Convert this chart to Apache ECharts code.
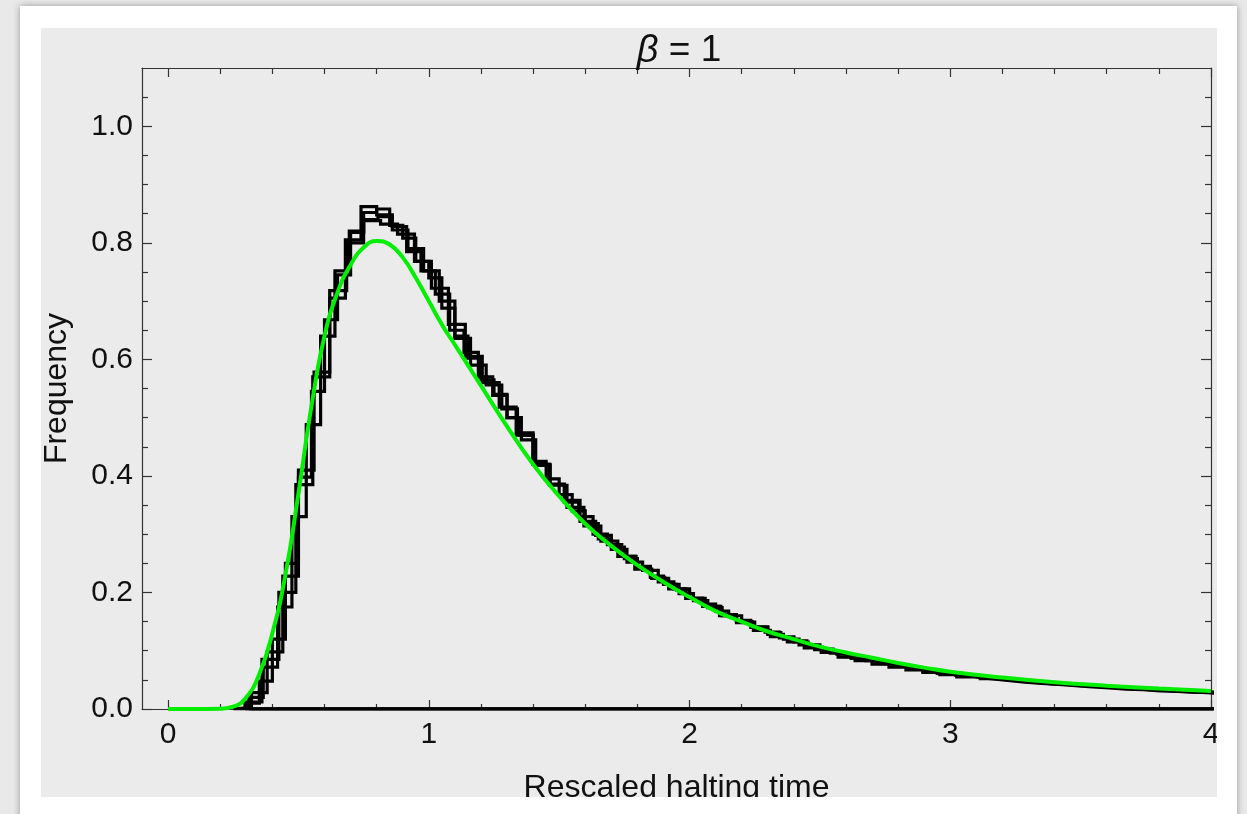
<!DOCTYPE html>
<html><head><meta charset="utf-8">
<script src="https://cdn.jsdelivr.net/npm/echarts@6/dist/echarts.min.js"></script>
<style>
html,body{margin:0;padding:0;width:1247px;height:814px;overflow:hidden;background:#e9e9e9;}
#card{position:absolute;left:20px;top:6px;width:1217px;height:830px;background:#fff;box-shadow:0 0 7px rgba(0,0,0,0.35);}
#chart{position:absolute;left:41px;top:28px;width:1176px;height:769px;background:#ebebeb;}
</style></head>
<body><div id="card"></div><div id="chart"></div>
<script>
// ---- data ----
const xName = 'Rescaled halting time';
const yName = 'Frequency';
const xMajorTicks = [0, 1, 2, 3, 4];
const xMinorTicks = [0.2,0.4,0.6,0.8,1.2,1.4,1.6,1.8,2.2,2.4,2.6,2.8,3.2,3.4,3.6,3.8];
const yMajorTicks = [0, 0.2, 0.4, 0.6, 0.8, 1.0];
const yTickLabels = ['0.0','0.2','0.4','0.6','0.8','1.0'];
const yMinorTicks = [0.05,0.1,0.15,0.25,0.3,0.35,0.45,0.5,0.55,0.65,0.7,0.75,0.85,0.9,0.95,1.05];

// histogram 1: bins start at 0.25, width 0.05
const hist1Start = 0.25, hist1Width = 0.05;
const hist1Values = [0.002,0.010,0.048,0.120,0.250,0.398,0.545,0.668,0.745,0.818,0.852,0.858,0.830,0.808,0.768,0.740,0.688,0.640,0.602,0.565,0.540,0.500,0.470,0.425,0.395,0.368,0.340,0.318,0.292,0.278,0.258,0.244,0.228,0.214,0.204,0.190,0.180,0.168,0.160,0.149,0.141,0.131,0.124,0.117,0.110,0.103,0.097,0.091,0.087,0.082,0.078,0.073,0.070,0.066,0.063,0.060,0.058,0.055,0.052,0.050,0.048,0.046,0.045,0.043,0.041,0.040,0.038,0.037,0.035,0.034,0.033,0.032,0.031,0.030,0.029,0.028];
// histogram 2: bins start at 0.31, width 0.055
const hist2Start = 0.31, hist2Width = 0.055;
const hist2Values = [0.020,0.072,0.175,0.330,0.488,0.640,0.752,0.820,0.840,0.845,0.828,0.785,0.752,0.712,0.650,0.612,0.570,0.538,0.500,0.462,0.418,0.385,0.355,0.330,0.300,0.282,0.262,0.245,0.226,0.214,0.198,0.186,0.174,0.160,0.152,0.140,0.132,0.122,0.115,0.106,0.100,0.094,0.087,0.083,0.078,0.074,0.070,0.065,0.061,0.059,0.056,0.052,0.050,0.048,0.046,0.043,0.042,0.040,0.039,0.037,0.036,0.034,0.033,0.032,0.030,0.029,0.028,0.027];
// histogram 3: bins start at 0.32, width 0.06
const hist3Start = 0.32, hist3Width = 0.06;
const hist3Values = [0.028,0.098,0.228,0.410,0.578,0.705,0.805,0.862,0.848,0.822,0.790,0.752,0.700,0.636,0.590,0.556,0.515,0.474,0.420,0.386,0.358,0.322,0.298,0.274,0.252,0.238,0.218,0.206,0.190,0.176,0.162,0.150,0.140,0.128,0.120,0.110,0.102,0.096,0.090,0.084,0.079,0.074,0.069,0.066,0.062,0.058,0.055,0.052,0.050,0.047,0.045,0.043,0.041,0.039,0.037,0.036,0.034,0.033,0.031,0.030,0.029,0.028];
// histogram 4: bins start at 0.295, width 0.065
const hist4Start = 0.295, hist4Width = 0.065;
const hist4Values = [0.012,0.085,0.200,0.385,0.570,0.718,0.800,0.838,0.832,0.815,0.768,0.722,0.660,0.605,0.560,0.518,0.470,0.420,0.384,0.346,0.314,0.288,0.262,0.240,0.224,0.206,0.190,0.176,0.160,0.148,0.135,0.124,0.115,0.105,0.097,0.089,0.083,0.077,0.072,0.067,0.063,0.059,0.055,0.052,0.049,0.046,0.044,0.042,0.040,0.038,0.036,0.034,0.033,0.031,0.030,0.029,0.028,0.027];

// fitted density (green curve)
const curveX = [0,0.1,0.2,0.25,0.3,0.35,0.4,0.45,0.5,0.55,0.6,0.65,0.7,0.75,0.8,0.85,0.9,0.95,1.0,1.05,1.1,1.15,1.2,1.3,1.4,1.5,1.6,1.7,1.8,1.9,2.0,2.1,2.2,2.3,2.4,2.5,2.6,2.7,2.8,2.9,3.0,3.2,3.4,3.6,3.8,4.0];
const curveY = [0,0,0.0005,0.004,0.02,0.06,0.13,0.23,0.37,0.52,0.64,0.715,0.762,0.792,0.803,0.797,0.775,0.74,0.70,0.66,0.625,0.59,0.555,0.485,0.42,0.365,0.318,0.28,0.247,0.218,0.192,0.168,0.15,0.133,0.12,0.107,0.097,0.088,0.079,0.071,0.064,0.054,0.046,0.040,0.035,0.031];

// ---- build ----
function histOutline(start, width, values) {
  const pts = [[start, 0]];
  for (let i = 0; i < values.length; i++) {
    pts.push([start + i * width, values[i]]);
    pts.push([start + (i + 1) * width, values[i]]);
  }
  const end = start + values.length * width;
  pts.push([end, 0]);
  pts.push([start, 0]);
  return pts;
}
const hists = [
  [hist1Start, hist1Width, hist1Values],
  [hist2Start, hist2Width, hist2Values],
  [hist3Start, hist3Width, hist3Values],
  [hist4Start, hist4Width, hist4Values]
];

const FONT = 'Liberation Sans, Arial, sans-serif';
const AX = '#333';
function xAxisDef(pos, ticks, len, withLine, withLabels, extra) {
  return Object.assign({
    type: 'value', min: -0.1, max: 4, position: pos,
    axisLine: { show: withLine, onZero: false, lineStyle: { color: AX, width: 1.2 } },
    axisTick: { show: true, inside: true, length: len, customValues: ticks, lineStyle: { color: AX, width: 1.2 } },
    axisLabel: withLabels ? { show: true, customValues: ticks, margin: 11, fontSize: 30, fontFamily: FONT, color: '#111',
      formatter: v => String(Math.round(v)) } : { show: false },
    splitLine: { show: false }
  }, extra || {});
}
function yAxisDef(pos, ticks, len, withLine, withLabels, extra) {
  return Object.assign({
    type: 'value', min: 0, max: 1.1, position: pos,
    axisLine: { show: withLine, onZero: false, lineStyle: { color: AX, width: 1.2 } },
    axisTick: { show: true, inside: true, length: len, customValues: ticks, lineStyle: { color: AX, width: 1.2 } },
    axisLabel: withLabels ? { show: true, customValues: ticks, margin: 9, fontSize: 30, fontFamily: FONT, color: '#111',
      formatter: v => { let b = 0; yMajorTicks.forEach((t, i) => { if (Math.abs(t - v) < Math.abs(yMajorTicks[b] - v)) b = i; }); return yTickLabels[b]; } } : { show: false },
    splitLine: { show: false }
  }, extra || {});
}

const chart = echarts.init(document.getElementById('chart'), null, { renderer: 'canvas' });
const series = hists.map(h => ({
  type: 'line', data: histOutline(h[0], h[1], h[2]), symbol: 'none', showSymbol: false,
  lineStyle: { color: '#000', width: 3.2, join: 'miter' }, xAxisIndex: 0, yAxisIndex: 0, z: 2, silent: true
}));
series.push({
  type: 'line', data: curveX.map((x, i) => [x, curveY[i]]), symbol: 'none', showSymbol: false,
  smooth: 0.5,
  lineStyle: { color: '#00ee00', width: 4 }, xAxisIndex: 0, yAxisIndex: 0, z: 3, silent: true
});

chart.setOption({
  animation: false,
  backgroundColor: '#ebebeb',
  title: {
    text: '{i|β} = 1', left: 633, textAlign: 'center', top: -1,
    textStyle: { fontSize: 37, fontFamily: FONT, color: '#111', fontWeight: 'normal',
      rich: { i: { fontStyle: 'italic', fontSize: 38, fontFamily: FONT, color: '#111' } } }
  },
  grid: { left: 101, right: 6, top: 40, bottom: 88, containLabel: false, outerBoundsMode: 'none' },
  xAxis: [
    xAxisDef('bottom', xMajorTicks, 9, true, true, {
      name: xName, nameLocation: 'middle', nameGap: 63,
      nameTextStyle: { fontSize: 32, fontFamily: FONT, color: '#111' } }),
    xAxisDef('bottom', xMinorTicks, 5, false, false),
    xAxisDef('top', xMajorTicks, 9, true, false),
    xAxisDef('top', xMinorTicks, 6, false, false)
  ],
  yAxis: [
    yAxisDef('left', yMajorTicks, 10, true, true, {
      name: yName, nameLocation: 'middle', nameGap: 69, nameRotate: 90,
      nameTextStyle: { fontSize: 32, fontFamily: FONT, color: '#111' } }),
    yAxisDef('left', yMinorTicks, 6, false, false),
    yAxisDef('right', yMajorTicks, 10, true, false),
    yAxisDef('right', yMinorTicks, 6, false, false)
  ],
  series: series
});
</script>
</body></html>
